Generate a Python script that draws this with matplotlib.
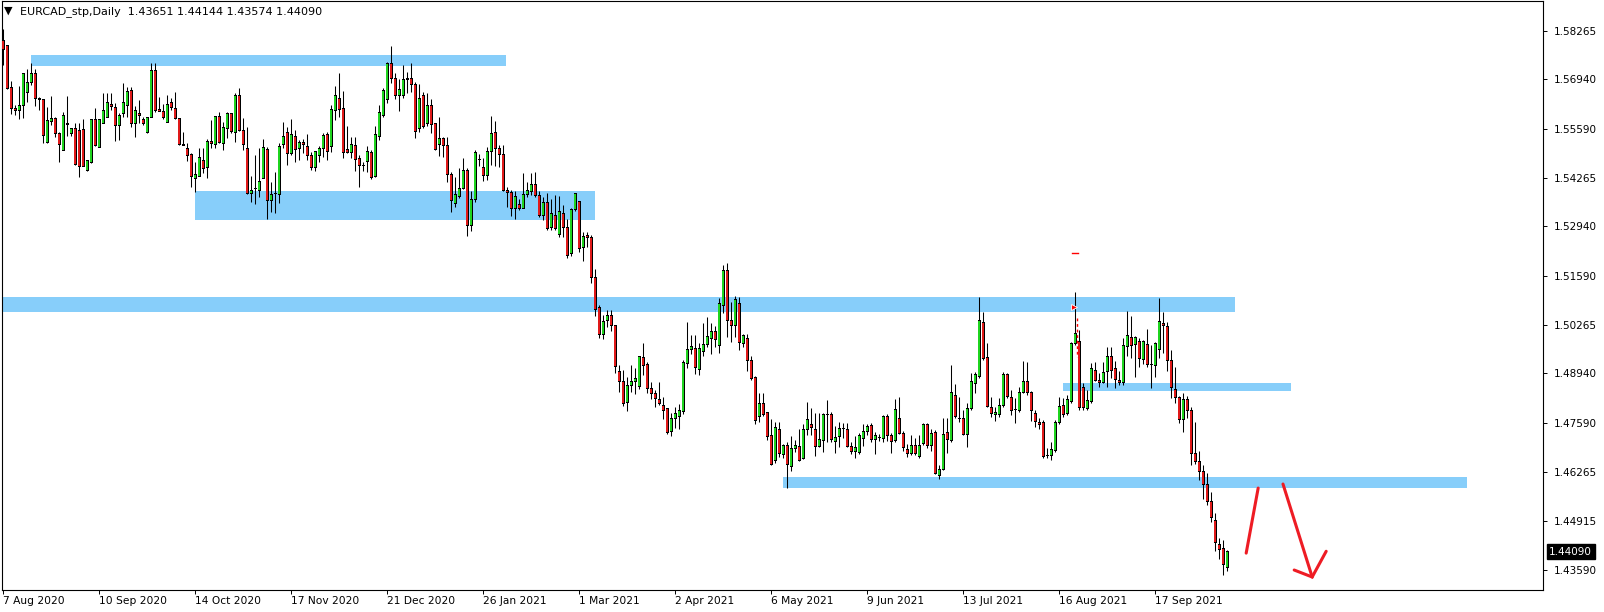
import matplotlib
matplotlib.use("Agg")
import matplotlib.pyplot as plt
import matplotlib.transforms as mtransforms
import numpy as np

# EURCAD daily candles, 7 Aug 2020 .. mid Oct 2021
opens = [
    1.5801, 1.5785, 1.5672, 1.5615, 1.5609, 1.5623, 1.5659, 1.5686, 1.5711, 1.5642,
    1.5638, 1.5522, 1.5579, 1.5588, 1.5547, 1.5501, 1.5574, 1.5547, 1.5561, 1.5556,
    1.5559, 1.5446, 1.5468, 1.5585, 1.5509, 1.5574, 1.5591, 1.5627, 1.5618, 1.5569,
    1.5600, 1.5622, 1.5664, 1.5574, 1.5602, 1.5584, 1.5550, 1.5591, 1.5719, 1.5611,
    1.5607, 1.5577, 1.5632, 1.5616, 1.5588, 1.5517, 1.5507, 1.5490, 1.5425, 1.5431,
    1.5474, 1.5455, 1.5526, 1.5517, 1.5593, 1.5520, 1.5561, 1.5602, 1.5550, 1.5649,
    1.5556, 1.5506, 1.5384, 1.5397, 1.5391, 1.5425, 1.5502, 1.5364, 1.5384, 1.5382,
    1.5517, 1.5550, 1.5493, 1.5538, 1.5506, 1.5522, 1.5511, 1.5487, 1.5454, 1.5488,
    1.5506, 1.5545, 1.5511, 1.5609, 1.5642, 1.5615, 1.5502, 1.5495, 1.5513, 1.5479,
    1.5461, 1.5470, 1.5496, 1.5431, 1.5538, 1.5595, 1.5640, 1.5736, 1.5697, 1.5650,
    1.5650, 1.5694, 1.5697, 1.5681, 1.5561, 1.5649, 1.5574, 1.5624, 1.5573, 1.5516,
    1.5534, 1.5514, 1.5436, 1.5357, 1.5375, 1.5398, 1.5447, 1.5296, 1.5368, 1.5475,
    1.5455, 1.5432, 1.5497, 1.5550, 1.5506, 1.5490, 1.5393, 1.5387, 1.5343, 1.5354,
    1.5343, 1.5382, 1.5389, 1.5409, 1.5379, 1.5323, 1.5360, 1.5291, 1.5325, 1.5273,
    1.5328, 1.5292, 1.5219, 1.5339, 1.5363, 1.5237, 1.5268, 1.5264, 1.5155, 1.5074,
    1.5000, 1.5037, 1.5052, 1.5023, 1.4899, 1.4873, 1.4814, 1.4860, 1.4871, 1.4858,
    1.4938, 1.4917, 1.4853, 1.4838, 1.4822, 1.4808, 1.4799, 1.4735, 1.4772, 1.4776,
    1.4790, 1.4921, 1.4959, 1.4962, 1.4905, 1.4953, 1.4974, 1.4989, 1.5008, 1.4971,
    1.5078, 1.5175, 1.5037, 1.5024, 1.5083, 1.4976, 1.4989, 1.4930, 1.4883, 1.4776,
    1.4813, 1.4787, 1.4724, 1.4657, 1.4740, 1.4672, 1.4699, 1.4642, 1.4690, 1.4696,
    1.4663, 1.4742, 1.4754, 1.4740, 1.4695, 1.4711, 1.4781, 1.4781, 1.4708, 1.4722,
    1.4744, 1.4742, 1.4695, 1.4681, 1.4678, 1.4717, 1.4735, 1.4753, 1.4715, 1.4719,
    1.4717, 1.4778, 1.4724, 1.4711, 1.4772, 1.4731, 1.4687, 1.4675, 1.4699, 1.4669,
    1.4704, 1.4756, 1.4699, 1.4733, 1.4615, 1.4633, 1.4733, 1.4711, 1.4835, 1.4772,
    1.4772, 1.4729, 1.4799, 1.4867, 1.4885, 1.5033, 1.4938, 1.4802, 1.4781, 1.4781,
    1.4806, 1.4891, 1.4829, 1.4796, 1.4794, 1.4842, 1.4873, 1.4842, 1.4784, 1.4761,
    1.4761, 1.4671, 1.4671, 1.4684, 1.4760, 1.4808, 1.4785, 1.4817, 1.4976, 1.4980,
    1.4856, 1.4799, 1.4817, 1.4903, 1.4876, 1.4869, 1.4899, 1.4941, 1.4906, 1.4874,
    1.4869, 1.4967, 1.4992, 1.4974, 1.4981, 1.4932, 1.4973, 1.4919, 1.4915, 1.4960,
    1.5030, 1.5021, 1.4928, 1.4851, 1.4829, 1.4769, 1.4822, 1.4792, 1.4677, 1.4654,
    1.4627, 1.4593, 1.4545, 1.4495, 1.4429, 1.4418, 1.43651,
]
highs = [
    1.5832, 1.5788, 1.5690, 1.5624, 1.5676, 1.5710, 1.5722, 1.5738, 1.5722, 1.5647,
    1.5638, 1.5618, 1.5649, 1.5591, 1.5552, 1.5604, 1.5649, 1.5561, 1.5576, 1.5576,
    1.5585, 1.5472, 1.5585, 1.5615, 1.5585, 1.5658, 1.5658, 1.5656, 1.5631, 1.5602,
    1.5683, 1.5674, 1.5674, 1.5622, 1.5638, 1.5593, 1.5591, 1.5738, 1.5738, 1.5647,
    1.5627, 1.5652, 1.5643, 1.5661, 1.5588, 1.5552, 1.5520, 1.5493, 1.5470, 1.5506,
    1.5506, 1.5532, 1.5583, 1.5593, 1.5606, 1.5579, 1.5606, 1.5602, 1.5658, 1.5670,
    1.5588, 1.5564, 1.5431, 1.5488, 1.5506, 1.5531, 1.5509, 1.5416, 1.5443, 1.5520,
    1.5579, 1.5564, 1.5585, 1.5556, 1.5529, 1.5531, 1.5545, 1.5497, 1.5500, 1.5513,
    1.5547, 1.5552, 1.5624, 1.5676, 1.5712, 1.5663, 1.5567, 1.5538, 1.5538, 1.5488,
    1.5470, 1.5513, 1.5502, 1.5567, 1.5624, 1.5670, 1.5742, 1.5785, 1.5711, 1.5694,
    1.5733, 1.5715, 1.5738, 1.5688, 1.5681, 1.5661, 1.5658, 1.5640, 1.5576, 1.5591,
    1.5538, 1.5536, 1.5443, 1.5429, 1.5452, 1.5479, 1.5452, 1.5389, 1.5502, 1.5490,
    1.5479, 1.5511, 1.5594, 1.5582, 1.5515, 1.5515, 1.5402, 1.5393, 1.5389, 1.5368,
    1.5438, 1.5416, 1.5438, 1.5441, 1.5389, 1.5375, 1.5384, 1.5368, 1.5379, 1.5377,
    1.5352, 1.5313, 1.5343, 1.5386, 1.5363, 1.5280, 1.5280, 1.5271, 1.5177, 1.5080,
    1.5053, 1.5066, 1.5066, 1.5026, 1.4917, 1.4903, 1.4885, 1.4917, 1.4908, 1.4941,
    1.4976, 1.4926, 1.4871, 1.4849, 1.4870, 1.4831, 1.4799, 1.4785, 1.4803, 1.4812,
    1.4930, 1.5035, 1.4998, 1.4998, 1.4976, 1.5032, 1.5048, 1.5032, 1.5023, 1.5098,
    1.5189, 1.5195, 1.5089, 1.5105, 1.5101, 1.5001, 1.5001, 1.4940, 1.4887, 1.4842,
    1.4840, 1.4790, 1.4769, 1.4763, 1.4763, 1.4702, 1.4706, 1.4724, 1.4713, 1.4742,
    1.4756, 1.4817, 1.4801, 1.4785, 1.4787, 1.4787, 1.4822, 1.4790, 1.4751, 1.4763,
    1.4758, 1.4760, 1.4708, 1.4724, 1.4733, 1.4756, 1.4756, 1.4758, 1.4735, 1.4729,
    1.4781, 1.4783, 1.4733, 1.4823, 1.4829, 1.4738, 1.4702, 1.4726, 1.4717, 1.4726,
    1.4760, 1.4760, 1.4742, 1.4740, 1.4645, 1.4772, 1.4772, 1.4917, 1.4865, 1.4831,
    1.4794, 1.4813, 1.4894, 1.4899, 1.5103, 1.5062, 1.4976, 1.4831, 1.4803, 1.4826,
    1.4899, 1.4894, 1.4849, 1.4826, 1.4858, 1.4928, 1.4926, 1.4846, 1.4794, 1.4772,
    1.4767, 1.4690, 1.4708, 1.4767, 1.4831, 1.4826, 1.4835, 1.4980, 1.5116, 1.5012,
    1.4867, 1.4849, 1.4921, 1.4926, 1.4894, 1.4926, 1.4965, 1.4965, 1.4929, 1.4901,
    1.4989, 1.5064, 1.5050, 1.4996, 1.4989, 1.4985, 1.5014, 1.4971, 1.4980, 1.5098,
    1.5060, 1.5035, 1.4958, 1.4911, 1.4833, 1.4840, 1.4833, 1.4803, 1.4763, 1.4684,
    1.4645, 1.4624, 1.4572, 1.4515, 1.4445, 1.4441, 1.44144,
]
lows = [
    1.5733, 1.5667, 1.5599, 1.5597, 1.5585, 1.5588, 1.5633, 1.5679, 1.5622, 1.5611,
    1.5520, 1.5522, 1.5570, 1.5538, 1.5470, 1.5501, 1.5540, 1.5540, 1.5462, 1.5429,
    1.5457, 1.5444, 1.5466, 1.5514, 1.5509, 1.5574, 1.5591, 1.5611, 1.5527, 1.5529,
    1.5591, 1.5591, 1.5565, 1.5538, 1.5574, 1.5570, 1.5547, 1.5591, 1.5606, 1.5607,
    1.5585, 1.5577, 1.5611, 1.5585, 1.5515, 1.5515, 1.5473, 1.5402, 1.5388, 1.5431,
    1.5438, 1.5425, 1.5506, 1.5506, 1.5520, 1.5502, 1.5534, 1.5547, 1.5523, 1.5554,
    1.5502, 1.5382, 1.5361, 1.5355, 1.5375, 1.5425, 1.5313, 1.5334, 1.5331, 1.5357,
    1.5506, 1.5461, 1.5488, 1.5470, 1.5476, 1.5493, 1.5476, 1.5447, 1.5445, 1.5468,
    1.5482, 1.5475, 1.5497, 1.5583, 1.5593, 1.5479, 1.5493, 1.5479, 1.5445, 1.5402,
    1.5445, 1.5443, 1.5422, 1.5429, 1.5529, 1.5593, 1.5629, 1.5685, 1.5640, 1.5609,
    1.5644, 1.5658, 1.5661, 1.5535, 1.5552, 1.5561, 1.5567, 1.5547, 1.5502, 1.5486,
    1.5484, 1.5416, 1.5334, 1.5348, 1.5370, 1.5395, 1.5269, 1.5282, 1.5361, 1.5457,
    1.5418, 1.5420, 1.5461, 1.5457, 1.5455, 1.5389, 1.5348, 1.5321, 1.5313, 1.5339,
    1.5343, 1.5375, 1.5379, 1.5375, 1.5320, 1.5311, 1.5284, 1.5284, 1.5284, 1.5264,
    1.5264, 1.5207, 1.5214, 1.5337, 1.5225, 1.5201, 1.5239, 1.5141, 1.5050, 1.4991,
    1.4987, 1.5021, 1.5010, 1.4894, 1.4844, 1.4805, 1.4793, 1.4844, 1.4838, 1.4851,
    1.4891, 1.4840, 1.4823, 1.4802, 1.4808, 1.4769, 1.4729, 1.4724, 1.4745, 1.4742,
    1.4783, 1.4910, 1.4947, 1.4892, 1.4890, 1.4941, 1.4965, 1.4947, 1.4967, 1.4950,
    1.5057, 1.4994, 1.4980, 1.4994, 1.4958, 1.4965, 1.4901, 1.4876, 1.4756, 1.4763,
    1.4778, 1.4713, 1.4645, 1.4649, 1.4667, 1.4665, 1.4581, 1.4629, 1.4681, 1.4656,
    1.4660, 1.4726, 1.4726, 1.4669, 1.4693, 1.4681, 1.4708, 1.4708, 1.4678, 1.4695,
    1.4717, 1.4693, 1.4676, 1.4665, 1.4676, 1.4696, 1.4726, 1.4708, 1.4675, 1.4711,
    1.4708, 1.4711, 1.4678, 1.4708, 1.4729, 1.4684, 1.4667, 1.4672, 1.4672, 1.4665,
    1.4699, 1.4690, 1.4684, 1.4620, 1.4606, 1.4630, 1.4677, 1.4706, 1.4772, 1.4763,
    1.4726, 1.4693, 1.4794, 1.4842, 1.4881, 1.4930, 1.4803, 1.4776, 1.4765, 1.4776,
    1.4803, 1.4826, 1.4781, 1.4760, 1.4790, 1.4840, 1.4835, 1.4765, 1.4749, 1.4742,
    1.4665, 1.4663, 1.4658, 1.4681, 1.4756, 1.4776, 1.4781, 1.4813, 1.4971, 1.4794,
    1.4794, 1.4794, 1.4813, 1.4872, 1.4856, 1.4867, 1.4858, 1.4881, 1.4853, 1.4862,
    1.4862, 1.4941, 1.4935, 1.4883, 1.4912, 1.4920, 1.4912, 1.4853, 1.4883, 1.4935,
    1.4950, 1.4901, 1.4826, 1.4814, 1.4760, 1.4735, 1.4774, 1.4645, 1.4647, 1.4604,
    1.4551, 1.4536, 1.4491, 1.4412, 1.4388, 1.4345, 1.43574,
]
closes = [
    1.5774, 1.5670, 1.5615, 1.5609, 1.5622, 1.5709, 1.5686, 1.5711, 1.5642, 1.5638,
    1.5541, 1.5581, 1.5588, 1.5547, 1.5517, 1.5596, 1.5571, 1.5561, 1.5462, 1.5457,
    1.5458, 1.5472, 1.5585, 1.5514, 1.5585, 1.5608, 1.5632, 1.5620, 1.5569, 1.5596,
    1.5632, 1.5662, 1.5574, 1.5608, 1.5596, 1.5574, 1.5591, 1.5719, 1.5608, 1.5607,
    1.5591, 1.5627, 1.5618, 1.5588, 1.5517, 1.5515, 1.5487, 1.5429, 1.5434, 1.5482,
    1.5452, 1.5526, 1.5520, 1.5593, 1.5523, 1.5564, 1.5602, 1.5552, 1.5649, 1.5556,
    1.5517, 1.5384, 1.5393, 1.5397, 1.5416, 1.5509, 1.5364, 1.5381, 1.5384, 1.5511,
    1.5538, 1.5493, 1.5543, 1.5504, 1.5522, 1.5517, 1.5487, 1.5454, 1.5497, 1.5506,
    1.5540, 1.5497, 1.5611, 1.5651, 1.5611, 1.5495, 1.5495, 1.5516, 1.5477, 1.5461,
    1.5461, 1.5499, 1.5427, 1.5543, 1.5604, 1.5665, 1.5736, 1.5697, 1.5650, 1.5667,
    1.5694, 1.5696, 1.5681, 1.5552, 1.5642, 1.5565, 1.5624, 1.5570, 1.5504, 1.5534,
    1.5514, 1.5436, 1.5364, 1.5382, 1.5398, 1.5445, 1.5296, 1.5368, 1.5496, 1.5475,
    1.5432, 1.5497, 1.5547, 1.5506, 1.5490, 1.5391, 1.5387, 1.5343, 1.5375, 1.5343,
    1.5382, 1.5393, 1.5409, 1.5378, 1.5323, 1.5360, 1.5289, 1.5328, 1.5289, 1.5334,
    1.5292, 1.5214, 1.5339, 1.5384, 1.5234, 1.5266, 1.5264, 1.5155, 1.5068, 1.5000,
    1.5035, 1.5052, 1.5023, 1.4912, 1.4871, 1.4811, 1.4860, 1.4873, 1.4879, 1.4941,
    1.4915, 1.4852, 1.4838, 1.4826, 1.4811, 1.4794, 1.4733, 1.4772, 1.4785, 1.4794,
    1.4924, 1.4959, 1.4967, 1.4910, 1.4962, 1.4974, 1.4994, 1.5008, 1.4987, 1.5083,
    1.5175, 1.5037, 1.5024, 1.5094, 1.4978, 1.4997, 1.4929, 1.4879, 1.4767, 1.4811,
    1.4781, 1.4722, 1.4647, 1.4747, 1.4675, 1.4699, 1.4645, 1.4690, 1.4699, 1.4656,
    1.4742, 1.4769, 1.4747, 1.4695, 1.4713, 1.4781, 1.4781, 1.4713, 1.4720, 1.4744,
    1.4744, 1.4695, 1.4681, 1.4693, 1.4726, 1.4735, 1.4749, 1.4715, 1.4724, 1.4720,
    1.4778, 1.4724, 1.4708, 1.4796, 1.4731, 1.4693, 1.4675, 1.4699, 1.4675, 1.4699,
    1.4756, 1.4699, 1.4731, 1.4622, 1.4633, 1.4729, 1.4713, 1.4842, 1.4776, 1.4770,
    1.4729, 1.4799, 1.4872, 1.4892, 1.5037, 1.4935, 1.4803, 1.4784, 1.4788, 1.4808,
    1.4891, 1.4831, 1.4793, 1.4796, 1.4842, 1.4873, 1.4842, 1.4793, 1.4763, 1.4755,
    1.4669, 1.4671, 1.4686, 1.4761, 1.4805, 1.4783, 1.4822, 1.4976, 1.5003, 1.4802,
    1.4802, 1.4819, 1.4908, 1.4874, 1.4869, 1.4897, 1.4941, 1.4903, 1.4878, 1.4869,
    1.4971, 1.4996, 1.4971, 1.4992, 1.4935, 1.4980, 1.4919, 1.4919, 1.4976, 1.5035,
    1.5023, 1.4928, 1.4856, 1.4829, 1.4769, 1.4822, 1.4792, 1.4677, 1.4654, 1.4627,
    1.4593, 1.4545, 1.4502, 1.4434, 1.4415, 1.4374, 1.44090,
]

date_labels = ["7 Aug 2020", "10 Sep 2020", "14 Oct 2020", "17 Nov 2020", "21 Dec 2020",
               "26 Jan 2021", "1 Mar 2021", "2 Apr 2021", "6 May 2021", "9 Jun 2021",
               "13 Jul 2021", "16 Aug 2021", "17 Sep 2021"]
date_bars = [0, 24, 48, 72, 96, 120, 144, 168, 192, 216, 240, 264, 288]

price_ticks = [1.58265, 1.56940, 1.55590, 1.54265, 1.52940, 1.51590, 1.50265,
               1.48940, 1.47590, 1.46265, 1.44915, 1.43590]

# support / resistance zones: (first bar, last bar, top, bottom)
zone_start = [6.9, 48.0, 0.0, 264.9, 194.9]
zone_end = [125.7, 147.9, 307.9, 321.9, 365.9]
zone_top = [1.5760, 1.5390, 1.5103, 1.4867, 1.4611]
zone_bottom = [1.5730, 1.5311, 1.5062, 1.4847, 1.4583]

# hand drawn red arrows (bar index, price)
up_x = [310.7, 313.7]
up_y = [1.4405, 1.4582]
down_x = [319.9, 327.2]
down_y = [1.4593, 1.4340]
head_x = [322.7, 327.2, 330.7]
head_y = [1.4359, 1.4340, 1.4410]

last_price = 1.44090

GREEN = "#1fd41f"
RED = "#e01a1a"
ZONE = "#87cefa"

fig = plt.figure(figsize=(16.04, 6.12), dpi=100)
W, H = 1604, 612
ax = fig.add_axes([2 / W, 1 - 589.5 / H, 1541 / W, 588.5 / H])

o = np.array(opens)
h = np.array(highs)
l = np.array(lows)
c = np.array(closes)
x = np.arange(len(c))

# zones behind the candles
for xs, xe, zt, zb in zip(zone_start, zone_end, zone_top, zone_bottom):
    ax.fill_between([xs, xe], zb, zt, color=ZONE, lw=0, zorder=1)

# one pixel in price units, used to inset the coloured fill inside the black body
px = (1.59073 - 1.43060) / 588.5

ax.vlines(x, l, h, color="black", lw=0.75, zorder=2)
top = np.maximum(o, c)
bot = np.minimum(o, c)
ax.bar(x, top - bot + px, bottom=bot - px / 2, width=0.8, color="black",
       linewidth=0, zorder=3)
body_col = [GREEN if cc >= oo else RED for oo, cc in zip(o, c)]
inner = np.clip(top - bot - px, 0, None)
ax.bar(x, inner, bottom=bot + px / 2, width=0.45, color=body_col,
       linewidth=0, zorder=4)

# red arrows
ax.plot(up_x, up_y, color="#ee1c24", lw=2.2, solid_capstyle="round", zorder=5)
ax.plot(down_x, down_y, color="#ee1c24", lw=2.2, solid_capstyle="round", zorder=5)
ax.plot(head_x, head_y, color="#ee1c24", lw=2.2, solid_capstyle="round",
        solid_joinstyle="miter", zorder=5)

# small marks near 16 Aug
ax.plot([267.2, 268.7], [1.5222, 1.5222], color="red", lw=1.0, zorder=5)
ax.plot([267.6], [1.5075], marker=">", color="red", markersize=5,
        markeredgecolor="white", markeredgewidth=0.6, zorder=6)
ax.plot([268.4, 268.4], [1.5044, 1.4938], color="red", lw=1.0, ls=(0, (2, 2)), zorder=5)

ax.set_xlim(-0.325, 384.9)
ax.set_ylim(1.43060, 1.59073)

for sp in ax.spines.values():
    sp.set_color("black")
    sp.set_linewidth(0.8)

ax.yaxis.tick_right()
ax.set_yticks(price_ticks)
ax.set_yticklabels([f"{p:.5f}" for p in price_ticks])
ax.tick_params(axis="y", direction="out", length=3, width=0.7, pad=5,
               labelsize=7.5, colors="black")
ax.set_xticks(date_bars)
ax.set_xticklabels(date_labels, ha="left")
ax.tick_params(axis="x", direction="out", length=3, width=0.7, pad=1.5,
               labelsize=7.7, colors="black")

# current price box on the right axis
trans = mtransforms.blended_transform_factory(ax.transAxes, ax.transData)
ax.text(1.004, last_price, f"{last_price:.5f}", transform=trans, ha="left",
        va="center", fontsize=7.5, color="white", zorder=7, clip_on=False,
        bbox=dict(boxstyle="square,pad=0.25", fc="black", ec="black"))

# header
fig.text(4 / W, 1 - 11 / H, "\u25bc", fontsize=8, va="center", ha="left")
fig.text(20 / W, 1 - 12 / H, "EURCAD_stp,Daily  1.43651 1.44144 1.43574 1.44090",
         fontsize=8, va="center", ha="left")

fig.savefig("out.png", dpi=100, facecolor="white")
